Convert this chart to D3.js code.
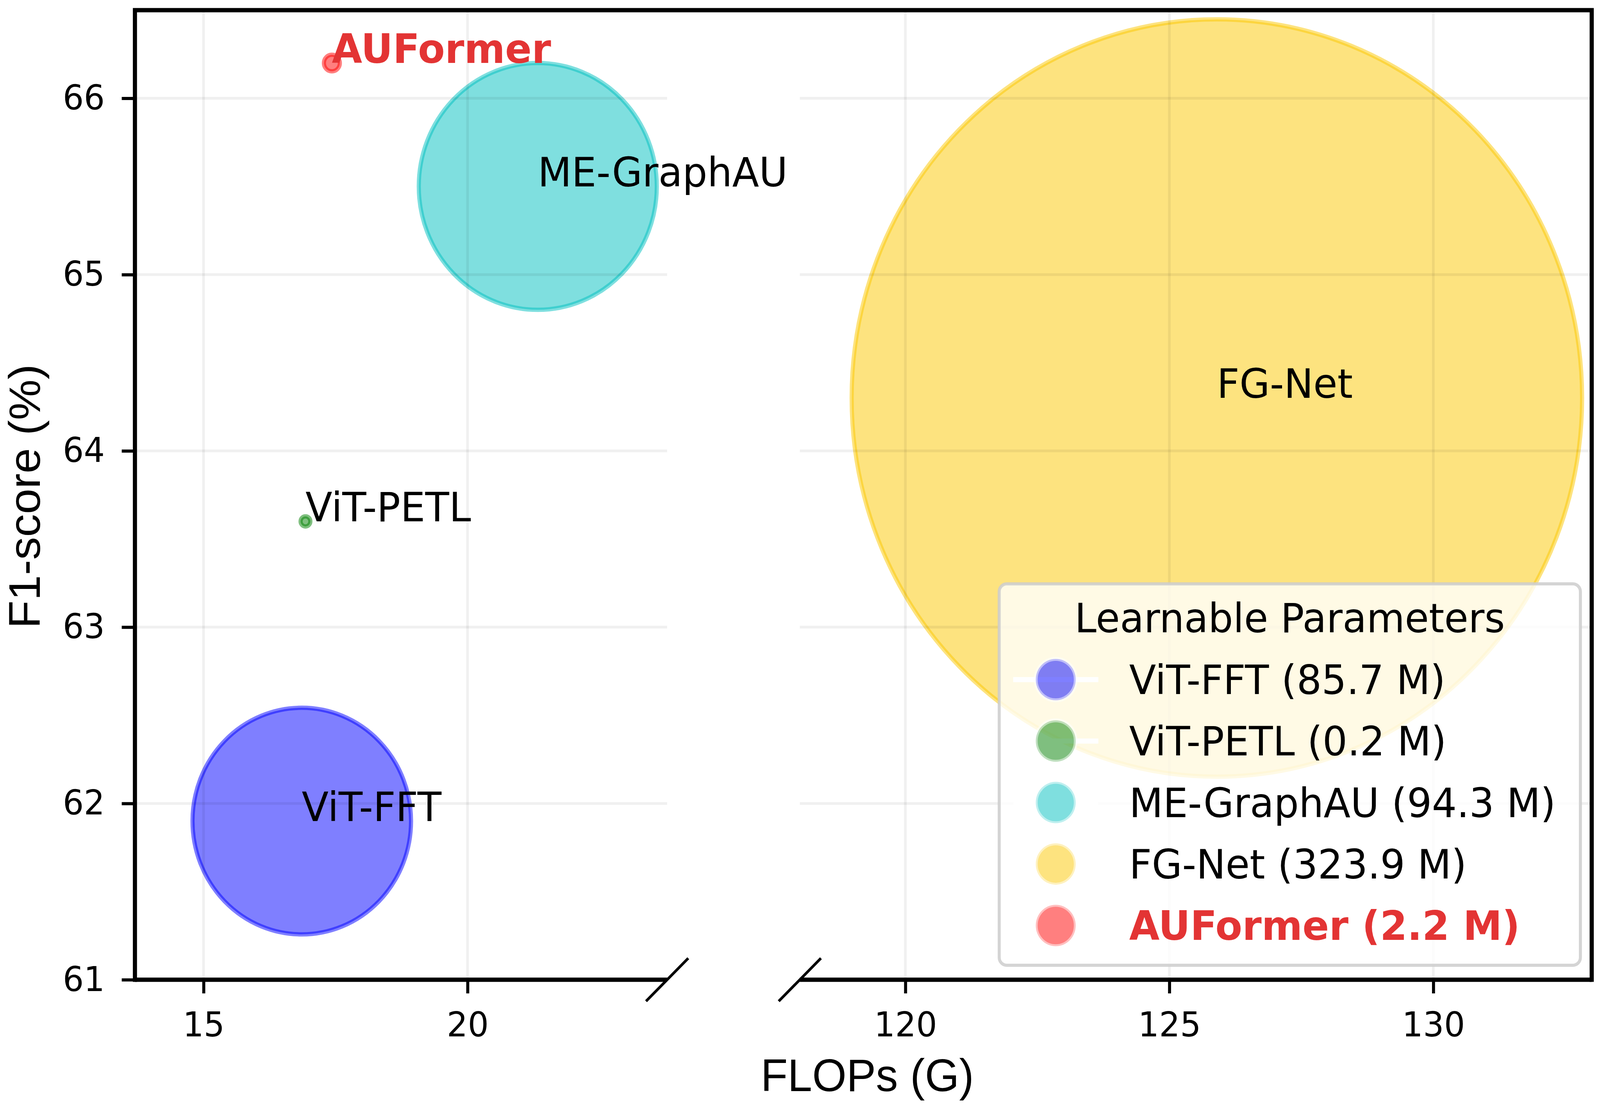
<!DOCTYPE html>
<html>
<head>
<meta charset="utf-8">
<script src="https://cdn.jsdelivr.net/npm/d3@7"></script>
<style>
  html, body { margin: 0; padding: 0; background: #fff; overflow: hidden; }
  svg { display: block; width: 100vw; height: 100vh; }
</style>
</head>
<body>
<script>
(function() {
  'use strict';

  // values
  const models = ['ViT-FFT', 'ViT-PETL', 'ME-GraphAU', 'FG-Net', 'AUFormer'];
  const flops = [16.86, 16.93, 21.33, 125.9, 17.43];
  const f1 = [61.9, 63.6, 65.5, 64.3, 66.2];
  const params = [85.7, 0.2, 94.3, 323.9, 2.2];
  const legendLabels = ['ViT-FFT (85.7 M)', 'ViT-PETL (0.2 M)', 'ME-GraphAU (94.3 M)',
    'FG-Net (323.9 M)', 'AUFormer (2.2 M)'];
  const xTicksLeft = [15, 20];
  const xTicksRight = [120, 125, 130];
  const yTicks = [61, 62, 63, 64, 65, 66];

  const colors = ['#0000ff', '#008000', '#00bfbf', '#fbc800', '#ff0000'];
  const highlight = '#e33434';

  const w = 4245;
  const h = 2825;
  const top = 26;
  const bottom = 2507;
  const leftX0 = 358, leftX1 = 1770;
  const rightX0 = 2122, rightX1 = 4223;
  const font = '"DejaVu Sans", sans-serif';
  const labelFont = '"Liberation Sans", Arial, sans-serif';

  const yScale = d3.scaleLinear().domain([61, 66.5]).range([bottom, top]);
  const xLeft = d3.scaleLinear().domain([13.7, 23.78]).range([leftX0, leftX1]);
  const xRight = d3.scaleLinear().domain([118, 133]).range([rightX0, rightX1]);
  // bubble radius from learnable parameters
  const rScale = d3.scalePow().exponent(0.93).domain([0, 323.9]).range([12, 969]);
  const xPos = (v) => v > 100 ? xRight(v) : xLeft(v);

  const data = models.map((m, i) => ({
    name: m, x: flops[i], y: f1[i], p: params[i], color: colors[i]
  }));

  // fill the whole window whatever its exact size
  const svg = d3.select('body')
    .append('svg')
    .attr('viewBox', '0 0 ' + w + ' ' + h)
    .attr('preserveAspectRatio', 'none');

  // bubbles
  svg.append('g')
    .selectAll('circle')
    .data(data)
    .enter()
    .append('circle')
    .attr('cx', (d) => xPos(d.x))
    .attr('cy', (d) => yScale(d.y))
    .attr('r', (d) => rScale(d.p))
    .attr('fill', (d) => d.color)
    .attr('fill-opacity', 0.5)
    .attr('stroke', (d) => d.color)
    .attr('stroke-opacity', 0.5)
    .attr('stroke-width', 11);

  // grid, one set per panel
  const grid = svg.append('g')
    .attr('stroke', '#000')
    .attr('stroke-opacity', 0.06)
    .attr('stroke-width', 7);
  [[xLeft, xTicksLeft, leftX0, leftX1], [xRight, xTicksRight, rightX0, rightX1]]
    .forEach(function(p) {
      grid.append('g').selectAll('line')
        .data(p[1]).enter().append('line')
        .attr('x1', (d) => p[0](d)).attr('x2', (d) => p[0](d))
        .attr('y1', top).attr('y2', bottom);
      grid.append('g').selectAll('line')
        .data(yTicks.slice(1)).enter().append('line')
        .attr('x1', p[2]).attr('x2', p[3])
        .attr('y1', (d) => yScale(d)).attr('y2', (d) => yScale(d));
    });

  // axes
  function styleAxis(g) {
    g.select('.domain').remove();
    g.selectAll('.tick line').attr('stroke', '#000').attr('stroke-width', 8);
    g.selectAll('.tick text')
      .attr('fill', '#000')
      .style('font-family', font)
      .style('font-size', '87.5px');
  }

  svg.append('g')
    .attr('transform', 'translate(0,' + bottom + ')')
    .call(d3.axisBottom(xLeft).tickValues(xTicksLeft).tickFormat(d3.format('d'))
      .tickSize(35).tickPadding(48))
    .call(styleAxis);

  svg.append('g')
    .attr('transform', 'translate(0,' + bottom + ')')
    .call(d3.axisBottom(xRight).tickValues(xTicksRight).tickFormat(d3.format('d'))
      .tickSize(35).tickPadding(48))
    .call(styleAxis);

  svg.append('g')
    .attr('transform', 'translate(' + leftX0 + ',0)')
    .call(d3.axisLeft(yScale).tickValues(yTicks).tickFormat(d3.format('d'))
      .tickSize(35).tickPadding(45))
    .call(styleAxis);

  // spines
  const spines = svg.append('g')
    .attr('stroke', '#000')
    .attr('stroke-width', 11)
    .attr('stroke-linecap', 'square')
    .attr('fill', 'none');
  spines.append('path').attr('d', 'M' + leftX0 + ',' + bottom + 'V' + top + 'H' + rightX1 + 'V' + bottom);
  spines.append('line').attr('x1', leftX0).attr('x2', leftX1).attr('y1', bottom).attr('y2', bottom)
    .attr('stroke-linecap', 'butt');
  spines.append('line').attr('x1', rightX0).attr('x2', rightX1).attr('y1', bottom).attr('y2', bottom)
    .attr('stroke-linecap', 'butt');

  // break marks
  svg.append('g')
    .selectAll('line')
    .data([leftX1, rightX0])
    .enter()
    .append('line')
    .attr('x1', (d) => d - 56).attr('y1', bottom + 55)
    .attr('x2', (d) => d + 56).attr('y2', bottom - 55)
    .attr('stroke', '#000')
    .attr('stroke-width', 7);

  // axis titles
  svg.append('text')
    .attr('x', 2301)
    .attr('y', 2792)
    .attr('text-anchor', 'middle')
    .style('font-family', labelFont)
    .style('font-size', '117px')
    .text('FLOPs (G)');

  svg.append('text')
    .attr('transform', 'translate(106,1270) rotate(-90)')
    .attr('text-anchor', 'middle')
    .style('font-family', labelFont)
    .style('font-size', '117px')
    .text('F1-score (%)');

  // point labels
  svg.append('g')
    .selectAll('text')
    .data(data)
    .enter()
    .append('text')
    .attr('x', (d) => xPos(d.x))
    .attr('y', (d) => yScale(d.y))
    .attr('fill', (d) => d.name === 'AUFormer' ? highlight : '#000')
    .style('font-weight', (d) => d.name === 'AUFormer' ? 'bold' : 'normal')
    .style('font-family', font)
    .style('font-size', '104px')
    .text((d) => d.name);

  // legend
  const lg = svg.append('g');
  lg.append('rect')
    .attr('x', 2651).attr('y', 1494)
    .attr('width', 1542).attr('height', 976)
    .attr('rx', 20)
    .attr('fill', '#fff')
    .attr('fill-opacity', 0.8)
    .attr('stroke', '#cccccc')
    .attr('stroke-opacity', 0.85)
    .attr('stroke-width', 8);

  lg.append('text')
    .attr('x', 3422).attr('y', 1618)
    .attr('text-anchor', 'middle')
    .style('font-family', font)
    .style('font-size', '104px')
    .text('Learnable Parameters');

  const rows = lg.selectAll('g.row')
    .data(data)
    .enter()
    .append('g')
    .attr('class', 'row')
    .attr('transform', (d, i) => 'translate(0,' + (1739 + i * 157.3) + ')');

  rows.append('line')
    .attr('x1', 2688).attr('x2', 2914)
    .attr('stroke', '#fff')
    .attr('stroke-width', 13);

  rows.append('circle')
    .attr('cx', 2801)
    .attr('r', 53)
    .attr('fill', (d) => d.color)
    .attr('fill-opacity', 0.5)
    .attr('stroke', '#fff')
    .attr('stroke-opacity', 0.5)
    .attr('stroke-width', 10);

  rows.append('text')
    .attr('x', 2996)
    .attr('y', 37)
    .attr('fill', (d) => d.name === 'AUFormer' ? highlight : '#000')
    .style('font-weight', (d) => d.name === 'AUFormer' ? 'bold' : 'normal')
    .style('font-family', font)
    .style('font-size', '104px')
    .text((d, i) => legendLabels[i]);
}());
</script>
</body>
</html>
